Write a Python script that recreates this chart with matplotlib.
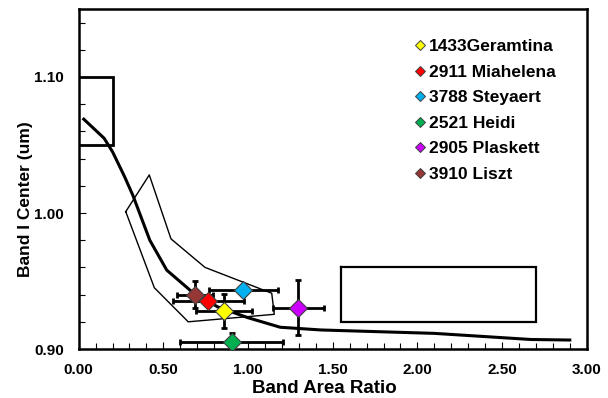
import matplotlib
matplotlib.use("Agg")
import matplotlib.pyplot as plt
from matplotlib.lines import Line2D
from matplotlib.ticker import MultipleLocator, FormatStrFormatter

plt.rcParams['font.family'] = ['Liberation Sans', 'DejaVu Sans']
plt.rcParams['font.weight'] = 'bold'

# Asteroid data
names = ["1433Geramtina", "2911 Miahelena", "3788 Steyaert", "2521 Heidi", "2905 Plaskett", "3910 Liszt"]
colors = ["#FFFF00", "#FF0000", "#00B0F0", "#00B050", "#CC00FF", "#953735"]
bar = [0.856, 0.766, 0.972, 0.904, 1.297, 0.687]
bar_err = [0.165, 0.21, 0.205, 0.305, 0.152, 0.105]
band1 = [0.9282, 0.9353, 0.9434, 0.9051, 0.9304, 0.940]
band1_err = [0.0125, 0.004, 0.004, 0.007, 0.020, 0.010]

# S-type / olivine-pyroxene mixing curve
curve_x = [0.03, 0.15, 0.20, 0.27, 0.32, 0.42, 0.52, 0.66, 0.82, 1.00, 1.19, 1.43, 2.10, 2.67, 2.90]
curve_y = [1.069, 1.055, 1.045, 1.027, 1.013, 0.980, 0.958, 0.943, 0.931, 0.923, 0.916, 0.914, 0.9115, 0.907, 0.9066]

# Basaltic achondrite region polygon
poly_x = [0.278, 0.417, 0.545, 0.746, 1.14, 1.155, 0.647, 0.447, 0.278]
poly_y = [1.001, 1.028, 0.981, 0.960, 0.941, 0.9255, 0.920, 0.945, 1.001]

# Olivine box and pyroxene box
box1_x = [0.0, 0.2, 0.2, 0.0]
box1_y = [1.10, 1.10, 1.05, 1.05]
box2_x = [1.55, 2.70, 2.70, 1.55, 1.55]
box2_y = [0.96, 0.96, 0.92, 0.92, 0.96]

fig = plt.figure(figsize=(6.08, 3.98), dpi=100)
ax = fig.add_axes([0.1294, 0.1231, 0.8356, 0.8543])

ax.plot(box1_x, box1_y, color='black', lw=2.0, solid_joinstyle='miter')
ax.plot(box2_x, box2_y, color='black', lw=1.6, solid_joinstyle='miter')
ax.plot(poly_x, poly_y, color='black', lw=1.0)
ax.plot(curve_x, curve_y, color='black', lw=2.2)

handles = []
for i in range(len(names)):
    ax.errorbar(bar[i], band1[i], xerr=bar_err[i], yerr=band1_err[i], fmt='none',
                ecolor='black', elinewidth=2.0, capsize=2.0, capthick=2.0, zorder=3)
for i in range(len(names)):
    ax.plot(bar[i], band1[i], marker='D', ms=9.3, mfc=colors[i], mec='#404040', mew=0.8,
            ls='none', zorder=4)
    handles.append(Line2D([], [], marker='D', ms=5.5, mfc=colors[i], mec='#404040', mew=0.7,
                          ls='none', label=names[i]))

ax.set_xlim(0, 3.0)
ax.set_ylim(0.90, 1.15)
ax.xaxis.set_major_locator(MultipleLocator(0.5))
ax.xaxis.set_minor_locator(MultipleLocator(0.1))
ax.yaxis.set_major_locator(MultipleLocator(0.1))
ax.yaxis.set_minor_locator(MultipleLocator(0.02))
ax.xaxis.set_major_formatter(FormatStrFormatter('%.2f'))
ax.yaxis.set_major_formatter(FormatStrFormatter('%.2f'))
ax.tick_params(which='both', direction='in', top=False, right=False, labelsize=11)
ax.tick_params(axis='x', which='both', pad=10)
ax.tick_params(axis='y', which='both', pad=10.5)
ax.tick_params(which='major', length=5, width=0.8)
ax.tick_params(which='minor', length=4, width=0.8)
for t in ax.get_xticklabels() + ax.get_yticklabels():
    t.set_fontweight('bold')
for s in ax.spines.values():
    s.set_linewidth(1.8)

ax.set_xlabel("Band Area Ratio", fontsize=13.5, fontweight='bold')
ax.xaxis.set_label_coords(0.483, -0.091)
ax.set_ylabel("Band I Center (um)", fontsize=12.5, fontweight='bold')
ax.yaxis.set_label_coords(-0.089, 0.44)

leg = ax.legend(handles=handles, loc='upper left', bbox_to_anchor=(0.661, 0.912), frameon=False,
                borderpad=0, borderaxespad=0,
                handlelength=0.6, handletextpad=0.25, labelspacing=0.6,
                prop={'weight': 'bold', 'size': 12.5})

fig.savefig("out.png", dpi=100)
